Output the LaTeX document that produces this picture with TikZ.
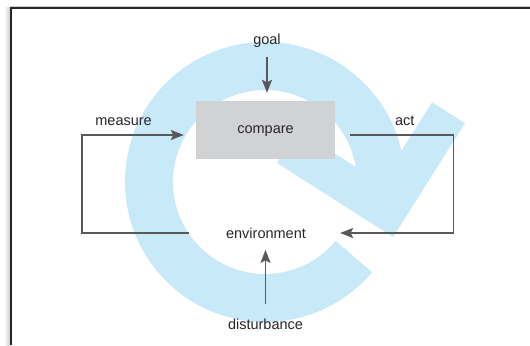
\documentclass[tikz,border=0pt]{standalone}
\usepackage{fontspec}
\setmainfont{Liberation Sans}
\usetikzlibrary{arrows.meta}
\definecolor{loopblue}{RGB}{199,233,248}
\definecolor{cmpgray}{RGB}{209,210,212}
\definecolor{wiregray}{RGB}{88,89,91}
\definecolor{inkgray}{RGB}{40,38,40}
\tikzset{
  txt/.style={text=inkgray,font=\fontsize{14.5bp}{17bp}\selectfont,inner sep=0pt},
  cmpbox/.style={txt,fill=cmpgray,minimum width=139bp,minimum height=58bp,text depth=0pt},
  wire/.style={draw=wiregray,line width=1.5bp}
}

\begin{document}
\begin{tikzpicture}[x=1bp,y=1bp,>={Stealth[length=13bp,width=10bp,inset=2.5bp]}]
  \useasboundingbox (0,0) rectangle (530,345);
  % page frame
  \shade[left color=white,right color=black!20] (4,0) rectangle (10.4,337.6);
  \draw[black!20,line width=0.8bp] (10,338.8) -- (530,338.8);
  \draw[black!85,line width=1.4bp] (11,0) -- (11,337) -- (530,337);

  % big loop arrow
  \coordinate (hub) at (265,163);
  \draw[loopblue,line width=48bp] (hub) ++(-40:116) arc[start angle=-40,end angle=-365,radius=116];
  \fill[loopblue] (277,182) -- (393,108) -- (465,221.7) -- (432.1,242.7) -- (381,162) -- (297.8,215) -- cycle;

  \node[cmpbox] (cmp) at (265.5,215) {compare};
  \node[txt,anchor=base] (goal) at (267,301) {goal};
  \node[txt,anchor=base] (env) at (266,106.5) {environment};
  \node[txt,anchor=base] (dist) at (265.5,15.6) {disturbance};
  \node[txt,anchor=base] (meas) at (123.6,219.3) {measure};
  \node[txt,anchor=base] (act) at (404.7,219.3) {act};

  \coordinate (mtop) at (82,210);
  \coordinate (mlow) at (82,112);
  \coordinate (atop) at (453.4,210);
  \coordinate (alow) at (453.4,112);

  \draw[wire,->,shorten <=10bp,shorten >=8bp] (goal.south) -- (goal.south |- cmp.north);
  \draw[wire,->,shorten <=15bp,shorten >=11bp] (dist.north) -- (dist.north |- env.south);
  \draw[wire,->,shorten <=37bp,shorten >=12bp] (mlow -| env.west) -- (mlow) -- (mtop) -- (mtop -| cmp.west);
  \draw[wire,->,shorten <=15bp,shorten >=34bp] (atop -| cmp.east) -- (atop) -- (alow) -- (alow -| env.east);
\end{tikzpicture}
\end{document}
